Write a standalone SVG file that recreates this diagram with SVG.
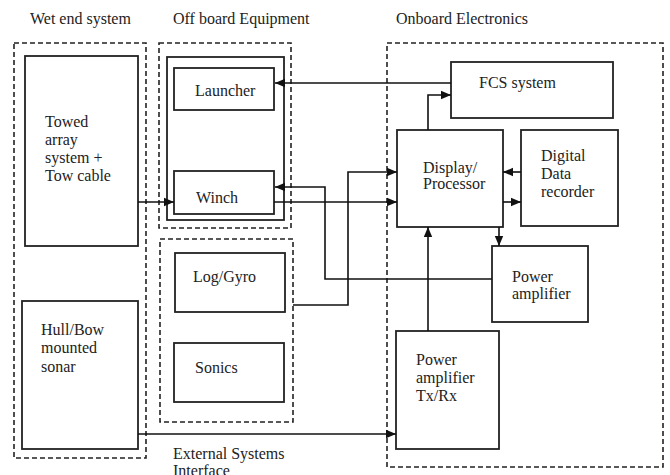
<svg xmlns="http://www.w3.org/2000/svg" width="670" height="475" viewBox="0 0 670 475">
<defs>
<marker id="arr" markerUnits="userSpaceOnUse" markerWidth="10" markerHeight="10" viewBox="0 0 10 10" refX="10" refY="5" orient="auto">
<path d="M0,0.8 L10,5 L0,9.2 Z" fill="#111"/>
</marker>
<style>
.box{fill:none;stroke:#222;stroke-width:1.8}
.grp{fill:none;stroke:#222;stroke-width:1.6;stroke-dasharray:5,3}
.t{font-size:16px;fill:#222}
.c{fill:none;stroke:#111;stroke-width:1.6;marker-end:url(#arr)}
</style>
</defs>
<rect width="670" height="475" fill="#fff"/>
<g font-family="'Liberation Serif', 'DejaVu Serif', serif">
<g id="wet-end-system">
<rect class="grp" x="14" y="43" width="132" height="415"/>
<text class="t" x="30" y="24">Wet end system</text>
</g>
<g id="offboard-equipment">
<rect class="grp" x="159" y="43" width="132" height="185"/>
<rect class="box" x="167" y="57" width="117" height="163"/>
<text class="t" x="173" y="24">Off board Equipment</text>
</g>
<g id="external-systems-interface">
<rect class="grp" x="160" y="239" width="133" height="183"/>
<text class="t" x="173" y="459">External Systems</text>
<text class="t" x="173" y="476">Interface</text>
</g>
<g id="onboard-electronics">
<rect class="grp" x="387" y="43" width="276" height="424"/>
<text class="t" x="396" y="24">Onboard Electronics</text>
</g>

<g id="towed-array">
<rect class="box" x="25" y="56" width="113" height="190"/>
<text class="t" x="45" y="127">Towed</text>
<text class="t" x="45" y="145">array</text>
<text class="t" x="45" y="163">system +</text>
<text class="t" x="45" y="181">Tow cable</text>
</g>
<g id="hull-bow-sonar">
<rect class="box" x="22" y="301" width="116" height="148"/>
<text class="t" x="41" y="335">Hull/Bow</text>
<text class="t" x="41" y="353">mounted</text>
<text class="t" x="41" y="372">sonar</text>
</g>
<g id="launcher">
<rect class="box" x="174" y="68" width="100" height="42"/>
<text class="t" x="195" y="96">Launcher</text>
</g>
<g id="winch">
<rect class="box" x="174" y="171" width="100" height="43"/>
<text class="t" x="196" y="203">Winch</text>
</g>
<g id="log-gyro">
<rect class="box" x="175" y="253" width="110" height="59"/>
<text class="t" x="193" y="282">Log/Gyro</text>
</g>
<g id="sonics">
<rect class="box" x="174" y="343" width="110" height="59"/>
<text class="t" x="195" y="373">Sonics</text>
</g>
<g id="fcs-system">
<rect class="box" x="451" y="62" width="162" height="56"/>
<text class="t" x="479" y="88">FCS system</text>
</g>
<g id="display-processor">
<rect class="box" x="397" y="130" width="106" height="97"/>
<text class="t" x="423" y="173">Display/</text>
<text class="t" x="423" y="189">Processor</text>
</g>
<g id="digital-data-recorder">
<rect class="box" x="521" y="130" width="97" height="96"/>
<text class="t" x="541" y="161">Digital</text>
<text class="t" x="541" y="179">Data</text>
<text class="t" x="541" y="197">recorder</text>
</g>
<g id="power-amplifier">
<rect class="box" x="492" y="246" width="96" height="76"/>
<text class="t" x="512" y="282">Power</text>
<text class="t" x="512" y="299">amplifier</text>
</g>
<g id="power-amplifier-txrx">
<rect class="box" x="396" y="331" width="103" height="118"/>
<text class="t" x="416" y="365">Power</text>
<text class="t" x="416" y="383">amplifier</text>
<text class="t" x="416" y="401">Tx/Rx</text>
</g>
</g>
<g id="connectors">
<path class="c" d="M138,202 L174,202"/>
<path class="c" d="M451,83 L275,83"/>
<path class="c" d="M428,130 L428,95 L451,95"/>
<path class="c" d="M492,279 L325,279 L325,187 L275,187"/>
<path class="c" d="M274,202 L397,202"/>
<path class="c" d="M293,305 L348,305 L348,172 L397,172"/>
<path class="c" d="M521,172 L503,172"/>
<path class="c" d="M503,202 L521,202"/>
<path class="c" d="M499,227 L499,246"/>
<path class="c" d="M428,331 L428,227"/>
<path class="c" d="M138,434 L396,434"/>
</g>
</svg>
